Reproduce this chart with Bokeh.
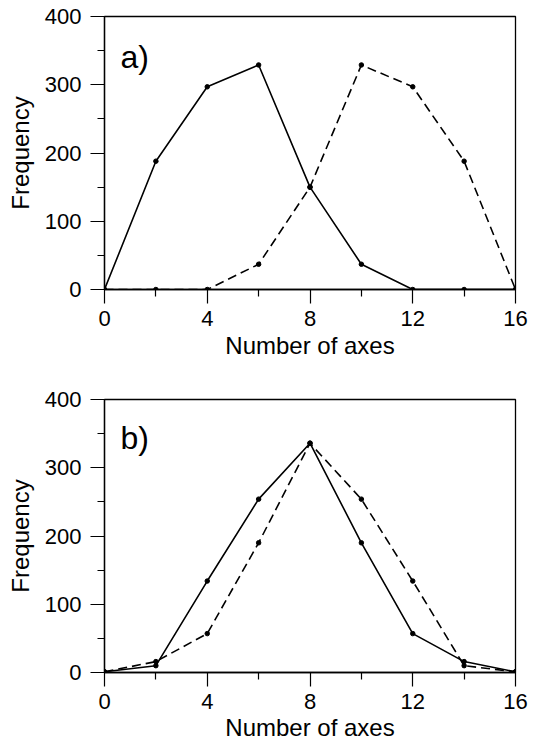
from bokeh.plotting import figure
from bokeh.layouts import column
from bokeh.models import Range1d, FixedTicker, Label
from bokeh.embed import file_html
from bokeh.resources import INLINE

# Data
x_vals = [0, 2, 4, 6, 8, 10, 12, 14, 16]
a_solid = [0, 188, 297, 329, 150, 37, 0, 0, 0]
a_dashed = [0, 0, 0, 37, 150, 329, 297, 188, 0]
b_solid = [1, 10, 134, 254, 336, 190, 57, 16, 1]
b_dashed = [1, 16, 57, 190, 336, 254, 134, 10, 1]

x_major = [0, 4, 8, 12, 16]
x_minor = [2, 6, 10, 14]
y_major = [0, 100, 200, 300, 400]
y_minor = [50, 150, 250, 350]

FONT = "Liberation Sans"


def make_panel(solid, dashed, tag, height, border_top, border_bottom, lbl_standoff, axlbl_standoff, tag_y):
    p = figure(width=537, height=height, output_backend="svg", toolbar_location=None,
               x_range=Range1d(0, 16), y_range=Range1d(0, 400),
               min_border_left=104, min_border_right=22, min_border_top=border_top,
               min_border_bottom=border_bottom)
    p.grid.visible = False
    p.background_fill_color = "white"
    p.border_fill_color = "white"
    p.outline_line_color = "black"
    p.outline_line_width = 1.3
    p.outline_line_alpha = 1

    p.xaxis.ticker = FixedTicker(ticks=x_major, minor_ticks=x_minor)
    p.yaxis.ticker = FixedTicker(ticks=y_major, minor_ticks=y_minor)
    for ax in (p.xaxis, p.yaxis):
        ax.axis_line_color = "black"
        ax.axis_line_width = 1.3
        ax.major_tick_line_color = "black"
        ax.minor_tick_line_color = "black"
        ax.major_tick_line_width = 1.2
        ax.minor_tick_line_width = 1.2
        ax.major_tick_in = 0
        ax.major_tick_out = 14
        ax.minor_tick_in = 0
        ax.minor_tick_out = 7
        ax.major_label_text_font = FONT
        ax.major_label_text_font_size = "22px"
        ax.major_label_text_color = "black"
        ax.axis_label_text_font = FONT
        ax.axis_label_text_font_size = "24px"
        ax.axis_label_text_font_style = "normal"
        ax.axis_label_text_color = "black"
    p.xaxis.axis_label = "Number of axes"
    p.yaxis.axis_label = "Frequency"
    p.xaxis.major_label_standoff = lbl_standoff
    p.xaxis.axis_label_standoff = axlbl_standoff
    p.yaxis.major_label_standoff = 9
    p.yaxis.axis_label_standoff = 8

    p.line(x_vals, solid, line_color="black", line_width=1.6)
    p.line(x_vals, dashed, line_color="black", line_width=1.6, line_dash="9 5")
    p.scatter(x_vals, solid, size=4.5, color="black")
    p.scatter(x_vals, dashed, size=4.5, color="black")

    p.add_layout(Label(x=0.62, y=tag_y, text=tag, text_font=FONT, text_font_size="32px",
                       text_color="black", text_baseline="alphabetic"))
    return p


p1 = make_panel(a_solid, a_dashed, "a)", 377, 16, 88, 7, 3, 340)
p2 = make_panel(b_solid, b_dashed, "b)", 370, 22, 75, 7, 2, 343)

layout = column(p1, p2)
open("out.html", "w").write(file_html(layout, INLINE))
